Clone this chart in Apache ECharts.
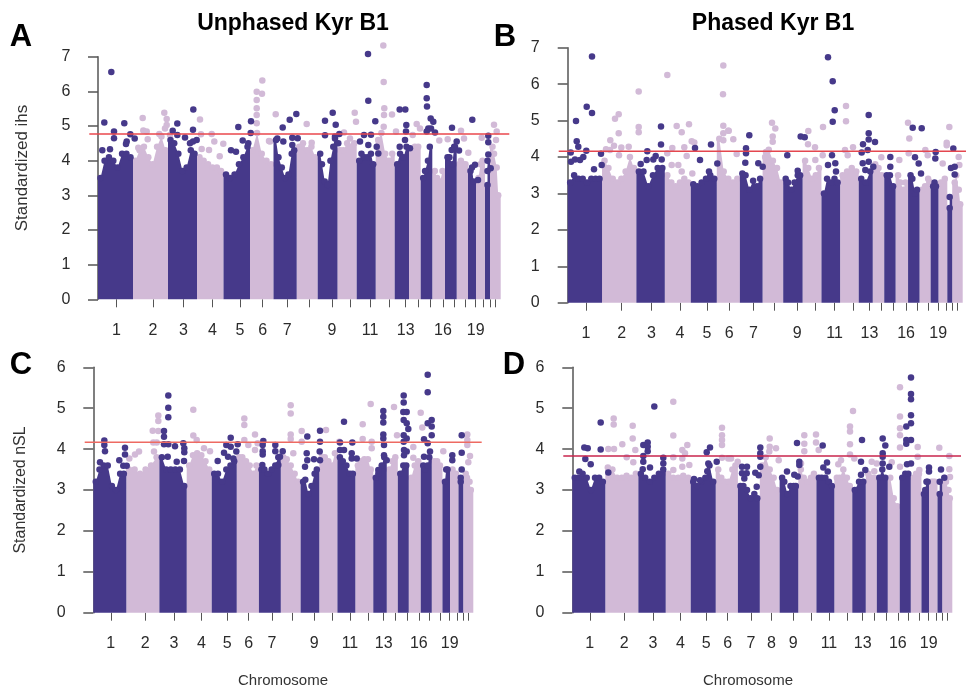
<!DOCTYPE html>
<html><head><meta charset="utf-8">
<style>html,body{margin:0;padding:0;background:#fff}#c{width:966px;height:693px}</style>
<script src="https://cdn.jsdelivr.net/npm/echarts@6/dist/echarts.min.js"></script>
</head><body><div id="c"></div>
<script>
const chromosomes=['1','2','3','4','5','6','7','8','9','10','11','12','13','14','15','16','17','18','19','20','21','22'];
const chromEdges=[0,35,70,99,125.5,152,175.5,198.7,219.7,239.5,258.7,277.7,296.7,311,322.7,334.3,347,358.7,370,378,387,392,402.7];
const chromTicks=[18.5,55,85.5,114.5,142,164.7,189.3,211,234,252.7,272,291,307.7,320,332.3,345,356,367.7,377.7,385.7,392,397.3];
const shownLabels=['1','2','3','4','5','6','7','9','11','13','16','19'];
const shownLabelsD=['1','2','3','4','5','6','7','8','9','11','13','16','19'];

const topsA=[[3.5,4.0,4.1,4.0,3.8,4.2,4.2,4.1],[4.0,4.3,4.4,4.1,3.9,4.4,4.7,4.3],[4.6,4.5,4.2,3.7,3.8,4.3,4.2],[4.1,4.0,3.9,3.8,3.8,3.7],[3.6,3.5,3.6,3.9,4.1,4.4],[4.3,4.8,4.2,4.0,3.9],[4.6,4.1,3.8,3.5,3.6,4.2,4.3],[4.4,4.5,4.3,4.4,4.1],[4.2,3.9,3.4,3.3,4.0,4.4,4.7],[4.3,4.3,4.5,4.4,4.5],[4.0,4.2,4.1,4.1,4.2,3.9],[4.6,4.8,4.2,4.0,4.2],[3.9,4.2,4.1,4.4],[4.3,4.4,4.4],[3.5,3.7,4.0,4.4],[3.7,3.5,3.4,3.7],[4.1,4.1,3.9,4.4],[3.9,4.0,3.9,3.9],[3.7,3.8,3.4],[3.5,3.9,4.0],[3.3,3.7,4.0],[4.4,4.2,3.8,3.0]];
const darkA=[[13.3,6.56],[6.3,5.1],[26.3,5.08],[16,4.84],[16,4.65],[32.3,4.76],[36.7,4.64],[28.7,4.55],[28,4.48],[4.3,4.3],[12,4.33],[74.7,4.86],[79.3,5.07],[95.3,5.48],[95,4.89],[87,4.67],[79.3,4.74],[92,4.5],[95,4.55],[98.7,4.6],[140.3,4.97],[153,5.14],[152.7,4.8],[133,4.3],[138,4.26],[144.7,4.58],[150.3,4.5],[270,7.08],[270.3,5.73],[277.3,5.14],[301.7,5.48],[307.3,5.48],[308.3,5.03],[328.7,6.18],[328.7,5.8],[329,5.56],[332.7,5.22],[335.3,5.12],[330.3,4.93],[333,4.93],[337,4.81],[328.7,4.84],[354,4.95],[374.3,5.18],[390.3,4.72],[390.3,4.53],[390.3,4.18],[184.7,4.96],[191.7,5.18],[198.3,5.35],[194.3,4.66],[199.7,4.65],[179.3,4.64],[185.3,4.55],[194.3,4.45],[227,5.15],[234.7,5.38],[237.7,5.04],[227,4.73],[241.3,4.77],[237,4.64],[240.3,4.5],[266,4.74],[273,4.75],[262,4.55],[270.3,4.45],[278.7,4.4],[280.3,4.21],[308,4.84],[307,4.6],[312,4.36],[301.7,4.4],[358.7,4.55],[357,4.4],[361,4.29],[353.7,4.31],[377,3.88],[380,3.44],[392.7,3.78]];
const lightA=[[44.7,5.23],[45.3,4.87],[48.7,4.84],[49.7,4.62],[66.3,5.38],[68.7,5.2],[68.7,5.03],[67,4.93],[61.3,4.77],[72,4.74],[40.3,4.37],[102,5.19],[103,4.76],[113.7,4.77],[116.3,4.55],[125.3,4.49],[111,4.31],[103.7,4.34],[121.7,4.13],[164.3,6.31],[158.7,5.99],[164,5.93],[158.7,5.75],[158.7,5.51],[158.7,5.32],[158.7,5.08],[177.7,5.34],[171,4.57],[208.7,5.06],[256.7,5.38],[258,5.12],[246,4.81],[285.3,7.32],[285.7,6.27],[286.3,5.51],[286,5.32],[285.7,4.98],[294,5.33],[298,4.84],[318.7,5.06],[322,4.93],[314.7,4.74],[363,4.86],[366,4.64],[341.3,4.58],[349.7,4.62],[396,5.04],[398.7,4.84],[383.7,4.66],[398,4.6],[213.7,4.52],[252,4.64],[370.3,4.23],[172,4.55]];

const topsB=[[3.3,3.5,3.4,3.4,3.3,3.4,3.4,3.4],[3.9,3.7,3.4,3.3,3.4,3.6,4.0,3.7],[3.6,3.6,3.2,3.5,3.7,3.7],[3.5,3.3,3.2,3.3,3.4,3.3],[3.25,3.2,3.3,3.4,3.5,3.4],[4.5,3.6,3.4,3.3,3.4],[3.55,3.5,3.1,3.35,3.2,3.4],[4.0,4.2,3.9,3.7,3.3],[3.4,3.3,3.1,3.3,3.5,3.5],[3.9,3.7,3.4,3.5,3.7],[3.0,3.4,3.3,3.4,3.3],[3.5,3.6,3.7,3.6],[3.4,3.3,3.6],[3.8,3.7,3.5],[3.5,3.5,3.2],[3.5,3.3,3.1,3.3],[3.5,3.4,3.0,3.1],[3.1,3.2,3.4],[3.2,3.3,3.2],[3.3,3.2,3.4],[2.6,2.9],[3.3,3.5,3.1,2.7]];
const darkB=[[24.3,6.76],[19,5.38],[24.3,5.21],[8.3,4.99],[9,4.43],[10.6,4.28],[3,4.12],[18.6,4.17],[33.3,4.09],[3.3,3.87],[7.3,3.93],[12.3,3.92],[15.6,4.0],[34,3.78],[26.3,3.66],[93.3,4.84],[93.3,4.34],[79.6,4.16],[73,3.81],[79,3.92],[85.6,3.93],[88,4.03],[94,3.93],[127.3,4.25],[143.3,4.34],[132.3,3.92],[149.6,3.82],[141.3,3.6],[260.3,6.74],[265,6.08],[267,5.28],[265,4.97],[301,5.15],[301,4.65],[295.3,4.35],[307.3,4.41],[301,4.48],[300,4.19],[294,4.12],[181.6,4.6],[178.3,4.24],[178.3,4.1],[177.6,3.84],[190.6,3.83],[195,3.73],[219.6,4.05],[230,3.62],[233,4.56],[237,4.54],[264.3,4.05],[260.3,3.78],[267.6,3.83],[268.3,3.6],[295,3.83],[301,3.87],[297.6,3.64],[305.6,3.73],[322.6,4.0],[322.6,3.73],[345,4.8],[354,4.79],[347.3,3.99],[351,3.82],[353.3,3.55],[368,4.14],[367.6,3.96],[385.6,4.23],[387,3.73],[387,3.52],[383.3,3.7]];
const lightB=[[71,5.8],[99.6,6.25],[51,5.17],[47.3,5.05],[51,4.65],[71,4.82],[71,4.68],[42.6,4.46],[46.3,4.31],[53.6,4.26],[61,4.28],[38.3,4.21],[42.3,4.19],[51.3,4.05],[109,4.85],[114,4.68],[121.3,4.9],[104.6,4.25],[116.6,4.27],[99.6,4.1],[119,4.03],[124,4.43],[126.6,4.4],[104,3.78],[110.6,3.78],[114,3.6],[124.6,3.55],[155.6,6.51],[155.3,5.72],[155.6,4.86],[160.6,4.72],[155.6,4.65],[155.6,4.46],[278.3,5.4],[278.3,4.98],[255.3,4.82],[240.6,4.71],[240.3,4.35],[247.3,4.27],[204.3,4.94],[207.6,4.78],[205,4.56],[205,4.42],[198.3,4.14],[285.3,4.27],[277.3,4.19],[280,4.05],[340.3,4.94],[341.6,4.51],[357.6,4.19],[360,4.05],[381.6,4.82],[379,4.39],[379,4.32],[391,4.0],[391.6,3.78],[375,3.82],[331.6,3.92],[313.6,3.99],[161,4.72],[165.6,4.49],[169,4.08],[255,4.05],[247.6,3.92],[341,4.1],[361.6,3.32]];

const topsC=[[3.2,3.5,3.6,3.6,3.1,3.0,3.4,3.4],[3.5,3.5,3.4,3.5,3.6,3.8],[3.8,3.5,3.5,3.5,3.5,3.1],[3.6,3.85,3.9,3.85,3.7,3.5],[3.4,3.4,3.2,3.5,3.6,3.7],[3.8,3.8,3.7,3.6,3.4,3.6],[3.5,3.5,3.4,3.5,3.6,3.8],[3.8,3.75,3.6,3.4,3.2],[3.2,3.25,2.9,3.1,3.4,3.5],[3.8,3.8,3.7,3.6,3.9],[3.8,3.7,3.6,3.4,3.4],[3.6,3.7,3.75,3.75,3.5],[3.3,3.4,3.6,3.8],[3.5,3.7,3.8],[3.4,3.6,3.6],[3.3,3.6,3.7],[3.6,3.5,3.6,3.8],[3.7,3.7,3.6],[3.2,3.5,3.5],[3.5,3.4,3.4],[3.2,3.3],[3.4,3.3,3.2,3.0]];
const darkC=[[11,4.21],[11,4.1],[11.7,3.95],[31.7,4.03],[31.7,3.87],[26,3.73],[6.7,3.68],[30,3.59],[33.4,3.59],[75,5.31],[75,5.01],[75,4.78],[70.7,4.44],[70.7,4.3],[70.7,4.12],[75,4.12],[81.7,4.07],[90,4.14],[91,4.02],[91,3.92],[74.4,3.81],[83.4,3.69],[90.7,3.71],[137.4,4.28],[133,4.1],[137.4,4.06],[144.4,4.12],[130.7,3.91],[143,3.94],[124.4,3.71],[134.7,3.81],[140,3.77],[170,4.2],[169.4,4.1],[169.4,3.95],[169.4,3.87],[169,3.61],[182,4.1],[182,3.95],[189.4,3.95],[186.7,3.81],[185,3.61],[214,4.31],[213.4,3.9],[214,3.73],[211.7,3.57],[226.7,4.45],[226.7,4.18],[226.4,3.94],[220.7,3.75],[226.7,3.73],[250.7,4.67],[246.7,4.16],[259,4.16],[246.7,3.98],[250.7,3.98],[258.4,3.9],[258.4,3.77],[263.4,3.77],[290,4.93],[290,4.79],[290,4.65],[290,4.36],[290,4.26],[290.7,4.1],[290.7,3.85],[293.4,3.73],[310.4,5.31],[310.4,5.14],[310,4.91],[313.4,4.91],[310.4,4.71],[313.4,4.63],[315,4.49],[310.4,4.34],[313.4,4.26],[310.4,4.18],[310.7,3.98],[313.4,3.94],[310.7,3.85],[334.4,5.82],[334.4,5.39],[338.4,4.71],[334.4,4.63],[338.4,4.55],[338.4,4.34],[330.7,4.24],[334.4,4.14],[336.7,3.94],[330.7,3.81],[368.4,4.34],[368.4,3.91],[359,3.85],[359,3.73],[368.4,3.5],[285,3.49]];
const lightC=[[65,4.82],[65,4.69],[59.4,4.45],[65,4.44],[60,4.16],[63.4,4.16],[60.7,3.94],[100,4.96],[100,4.33],[103.4,4.22],[45.7,3.94],[41.7,3.87],[36,3.77],[116.7,3.95],[110.7,4.02],[151,4.75],[151,4.59],[151,4.22],[155,4.1],[161.7,4.36],[164.4,4.14],[197.4,5.07],[197.4,4.87],[197.4,4.36],[197.4,4.25],[208.4,4.44],[208.4,4.18],[232.7,4.47],[277.4,5.1],[269.4,4.61],[269.4,4.25],[278.4,4.18],[278.4,4.02],[300.7,5.03],[303.7,4.34],[327.4,4.89],[329,4.53],[320,4.05],[320,3.79],[350,3.95],[374,4.36],[374,4.22],[374,4.1],[376.7,3.83],[375,3.68],[161.7,3.98],[200,3.9],[246,4.18]];

const topsD=[[3.3,3.3,3.4,3.3,3.0,3.3,3.3,3.2],[3.55,3.5,3.3,3.3,3.35,3.3,3.4],[3.4,3.3,3.2,3.3,3.4,3.5],[3.4,3.3,3.3,3.35,3.3],[3.2,3.1,3.2,3.3,3.6,3.2],[3.5,3.3,3.2,3.2,3.5,3.6],[3.1,3.1,3.0,2.8,2.9,2.8],[3.6,3.8,3.5,3.3,3.0],[3.3,3.2,2.9,3.1,3.1,3.1],[3.5,3.3,3.2,3.3,3.4],[3.3,3.3,3.3,3.2,3.1],[3.3,3.3,3.5,3.3,3.1],[3.0,3.2,3.2],[3.4,3.3,3.3],[3.3,3.5,3.3],[3.3,2.8,2.6],[3.3,3.4,3.4],[3.3,3.4,3.4],[2.9,3.0,3.2],[3.2,3.2,3.2],[2.9,3.2],[3.3,3.2,3.0,2.8]];
const darkD=[[28.4,4.65],[28.4,3.99],[12,4.04],[15.4,4.02],[13,3.76],[18.4,3.63],[7,3.45],[36,3.43],[82,5.04],[75.4,4.16],[71,4.1],[75.4,4.06],[75.4,3.95],[71,3.83],[91,3.79],[71,3.69],[77.7,3.55],[91,3.65],[70.4,3.51],[137.7,4.04],[134.4,3.92],[136,3.65],[144.4,3.69],[135,3.46],[121.7,3.27],[127.7,3.24],[188,4.04],[188,3.9],[188,3.81],[188,3.57],[169.7,3.57],[174.7,3.57],[169.7,3.41],[172,3.28],[174.4,3.41],[183,3.42],[186.4,3.36],[184.4,3.08],[224.7,4.15],[227,3.69],[227,3.61],[214.7,3.45],[222,3.37],[225.4,3.33],[223,3.08],[250.4,4.09],[254.7,3.67],[251,3.55],[255.4,3.45],[289.7,4.22],[288.7,3.69],[288.7,3.37],[293,3.49],[310.4,4.26],[313,4.09],[310.4,3.9],[310.4,3.81],[310.4,3.65],[317,3.57],[338.7,5.75],[338.7,5.35],[338.7,5.22],[338.7,4.83],[338.7,4.63],[334,4.55],[334,4.22],[334,4.13],[338.7,4.22],[334.7,3.63],[338.7,3.65],[356.7,3.55],[356.7,3.45],[355.4,3.2],[368.7,3.5],[372,3.3]];
const lightD=[[41.4,4.75],[41.4,4.6],[60.4,4.57],[60.4,4.26],[50,4.12],[63,3.98],[36,4],[41.7,4],[54.4,3.8],[101,5.16],[101,4.33],[115,4.1],[110,3.98],[112.7,3.9],[101,3.8],[110,3.77],[117,3.61],[110,3.57],[101,3.49],[149.7,4.52],[149.7,4.34],[149.7,4.22],[149.7,4.1],[149.7,3.79],[156,3.77],[61,3.68],[280.7,4.93],[277.7,4.55],[277.7,4.43],[277.7,4.12],[277.7,3.87],[282,3.77],[268.7,3.73],[266,3.63],[327.7,5.51],[327.7,4.8],[327.7,4.51],[327.7,4.34],[327.7,4.04],[327.7,3.57],[345.4,4.05],[345.4,3.81],[367,4.03],[377,3.83],[377,3.51],[377.7,3.32],[197.4,4.26],[197.4,4.06],[203.7,4.02],[197,3.94],[206.4,3.73],[232,4.34],[232,4.13],[232,3.95],[243.7,4.36],[243.7,4.16],[246.4,3.98],[228.7,3.65],[299.4,3.69],[304.4,3.65],[302,3.46],[319.4,3.68],[158.7,3.77],[165.4,3.69],[347,3.49]];

const thresholdA=4.77, thresholdB=4.16, thresholdC=4.17, thresholdD=3.83;

const DARK='#46398a', LIGHT='#d2bad7', FONT='"Liberation Sans",Arial,sans-serif';
const panels=[
 {tops:topsA,dark:darkA,light:lightA,thr:thresholdA,red:'#ea474c',ymax:7,left:89.3,top:56.7,h:242.6,xmin:-8.7,xmax:411.3,span:402.7,labels:shownLabels},
 {tops:topsB,dark:darkB,light:lightB,thr:thresholdB,red:'#e4474f',ymax:7,left:558.7,top:47.7,h:255,xmin:-9,xmax:398.3,span:395,labels:shownLabels},
 {tops:topsC,dark:darkC,light:lightC,thr:thresholdC,red:'#ee6a62',ymax:6,left:84.7,top:367.3,h:245.4,xmin:-8.6,xmax:388.4,span:380,labels:shownLabels},
 {tops:topsD,dark:darkD,light:lightD,thr:thresholdD,red:'#c8244c',ymax:6,left:563.3,top:367.3,h:245.4,xmin:-9,xmax:388.7,span:380,labels:shownLabelsD}
];
const grid=[],xAxis=[],yAxis=[],series=[];
panels.forEach((p,i)=>{
  const k=p.span/chromEdges[22];
  grid.push({left:p.left,top:p.top,height:p.h,width:(p.xmax-p.xmin)});
  const tickVals=chromTicks.map(v=>v*k);
  const labelVals=tickVals.filter((v,j)=>p.labels.includes(chromosomes[j]));
  xAxis.push({gridIndex:i,type:'value',min:p.xmin,max:p.xmax,offset:2,
    axisLine:{show:false},splitLine:{show:false},
    axisTick:{show:true,length:8,customValues:tickVals,lineStyle:{color:'#555',width:1}},
    axisLabel:{show:true,customValues:labelVals,margin:21,fontSize:16,fontFamily:FONT,color:'#2b2b2b',
      formatter:v=>{let b=0,d=1e9;tickVals.forEach((t,j)=>{if(Math.abs(t-v)<d){d=Math.abs(t-v);b=j}});return chromosomes[b];}}});
  yAxis.push({gridIndex:i,type:'value',min:0,max:p.ymax,interval:1,
    axisLine:{show:true,lineStyle:{color:'#555',width:1.5}},splitLine:{show:false},
    axisTick:{show:true,length:10,lineStyle:{color:'#555',width:1.5}},
    axisLabel:{margin:19,fontSize:16,fontFamily:FONT,color:'#2b2b2b'}});
  const sampleX=(c,j)=>{
    const x0=chromEdges[c]*k,x1=chromEdges[c+1]*k,w=(x1-x0)/p.tops[c].length;
    return Math.min(Math.max(x0+(j+.5)*w,x0+2.5),x1-2.5);
  };
  const renderMass=(params,api)=>{
    const c=api.value(2),t=p.tops[c],x0=chromEdges[c]*k,x1=chromEdges[c+1]*k;
    const pts=[api.coord([x0,0]),api.coord([x0,t[0]])];
    t.forEach((v,j)=>pts.push(api.coord([sampleX(c,j),v])));
    pts.push(api.coord([x1,t[t.length-1]]),api.coord([x1,0]));
    return {type:'polygon',shape:{points:pts},style:{fill:c%2===0?DARK:LIGHT}};
  };
  const massL=[],massD=[],dotsL=[],dotsD=[];
  p.tops.forEach((t,c)=>{
    const isDark=c%2===0;
    (isDark?massD:massL).push([chromEdges[c]*k,chromEdges[c+1]*k,c]);
    t.forEach((v,j)=>(isDark?dotsD:dotsL).push([sampleX(c,j),v]));
  });
  const mass=(d,z)=>({type:'custom',xAxisIndex:i,yAxisIndex:i,data:d,z,renderItem:renderMass,encode:{x:[0,1]},silent:true,animation:false});
  const dots=(d,c,z)=>({type:'scatter',xAxisIndex:i,yAxisIndex:i,data:d,z,symbol:'circle',symbolSize:6.5,clip:false,silent:true,animation:false,itemStyle:{color:c,opacity:1}});
  series.push(mass(massL,2),dots(dotsL,LIGHT,3),dots(p.light,LIGHT,3),mass(massD,4),dots(dotsD,DARK,5),dots(p.dark,DARK,5));
  series.push({type:'line',xAxisIndex:i,yAxisIndex:i,data:[[p.xmin,p.thr],[p.xmax,p.thr]],z:6,symbol:'none',silent:true,animation:false,lineStyle:{color:p.red,width:1.5}});
});
const txt=(t,x,y,size,weight,extra)=>Object.assign({type:'text',x,y,silent:true,style:{text:t,fontFamily:FONT,fontSize:size,fontWeight:weight,fill:weight==='bold'?'#000':'#333',textAlign:'center',textVerticalAlign:'middle'}},extra||{});
const graphic=[
 txt('Unphased Kyr B1',293,24,23,'bold'),txt('Phased Kyr B1',773,24,23,'bold'),
 txt('A',21,37,31,'bold'),txt('B',505,37,31,'bold'),txt('C',21,365,31,'bold'),txt('D',514,365,31,'bold'),
 txt('Chromosome',283,681,15,'normal'),txt('Chromosome',748,681,15,'normal'),
 txt('Standardized ihs',22,168,17,'normal',{rotation:Math.PI/2}),
 txt('Standardized nSL',21,490,16,'normal',{rotation:Math.PI/2})
];
const chart=echarts.init(document.getElementById('c'),null,{renderer:'canvas'});
chart.setOption({animation:false,backgroundColor:'#fff',grid,xAxis,yAxis,series,graphic});
</script></body></html>
